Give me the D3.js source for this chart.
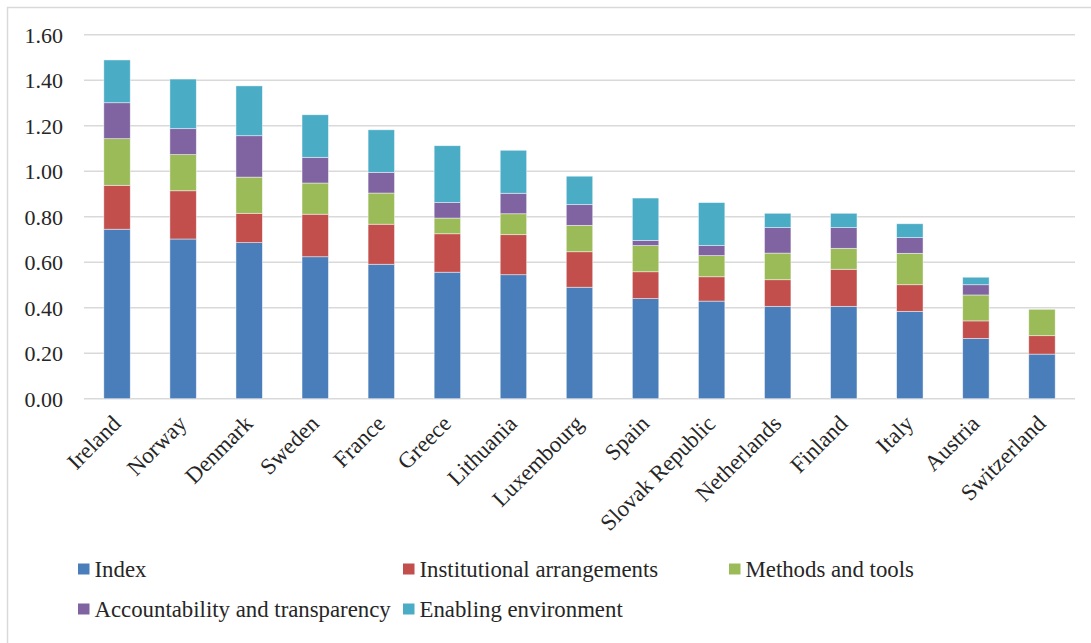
<!DOCTYPE html>
<html><head><meta charset="utf-8">
<script src="https://cdn.jsdelivr.net/npm/d3@7"></script>
<style>body{margin:0;background:#fff}svg{display:block}text{font-family:"Liberation Serif","Times New Roman",serif;fill:#262626}</style>
</head><body><svg id="c" width="1091" height="643"></svg>
<script>
const countries=["Ireland","Norway","Denmark","Sweden","France","Greece","Lithuania","Luxembourg","Spain","Slovak Republic","Netherlands","Finland","Italy","Austria","Switzerland"];
const seriesNames=["Index","Institutional arrangements","Methods and tools","Accountability and transparency","Enabling environment"];
const index=[0.745,0.702,0.686,0.624,0.591,0.556,0.545,0.490,0.440,0.429,0.406,0.406,0.384,0.265,0.196];
const institutional=[0.193,0.212,0.129,0.187,0.176,0.169,0.176,0.156,0.118,0.107,0.117,0.163,0.117,0.077,0.081];
const methods=[0.205,0.159,0.159,0.137,0.137,0.069,0.092,0.116,0.115,0.093,0.117,0.092,0.138,0.114,0.116];
const accountability=[0.158,0.114,0.182,0.113,0.091,0.068,0.090,0.091,0.023,0.044,0.112,0.091,0.069,0.045,0];
const enabling=[0.188,0.218,0.219,0.187,0.187,0.250,0.189,0.125,0.186,0.189,0.063,0.063,0.061,0.033,0];
const yTicks=[0,0.2,0.4,0.6,0.8,1.0,1.2,1.4,1.6];
const colors=["#4A7EBB","#C24F4C","#9BBB59","#8064A2","#4BACC6"];

const svg=d3.select("#c");
svg.append("rect").attr("x",7.5).attr("y",7.5).attr("width",1200).attr("height",800).attr("fill","none").attr("stroke","#d9d9d9").attr("stroke-width",1.5);

const x=d3.scaleBand().domain(countries).range([84,1075]).paddingInner(0.6).paddingOuter(0.3);
const y=d3.scaleLinear().domain([0,1.6]).range([398.7,34.7]);

const g=svg.append("g");
g.selectAll("line.grid").data(yTicks).join("line").attr("class","grid")
 .attr("x1",84).attr("x2",1075).attr("y1",d=>y(d)).attr("y2",d=>y(d))
 .attr("stroke","#d9d9d9").attr("stroke-width",1.5);

const yAxis=d3.axisLeft(y).tickValues(yTicks).tickFormat(d3.format(".2f")).tickSize(0).tickPadding(0);
const ya=svg.append("g").attr("transform","translate(63,0)").call(yAxis);
ya.select(".domain").remove();
ya.selectAll("text").attr("font-size",22).attr("font-family",'"Liberation Serif",serif').attr("fill","#262626").attr("dy","0.34em");

const rows=countries.map((c,i)=>({c,Index:index[i],"Institutional arrangements":institutional[i],"Methods and tools":methods[i],"Accountability and transparency":accountability[i],"Enabling environment":enabling[i]}));
const stacked=d3.stack().keys(seriesNames)(rows);
svg.append("g").selectAll("g").data(stacked).join("g").attr("fill",(d,i)=>colors[i])
 .selectAll("rect").data(d=>d.filter(p=>p[1]-p[0]>0)).join("rect")
 .attr("x",d=>x(d.data.c)).attr("width",x.bandwidth())
 .attr("y",d=>y(d[1])).attr("height",d=>y(d[0])-y(d[1]))
 .attr("stroke","#ffffff").attr("stroke-opacity",0.6).attr("stroke-width",0.75);

const xa=svg.append("g");
xa.selectAll("text").data(countries).join("text")
 .attr("transform",d=>`translate(${x(d)+x.bandwidth()/2+5},425) rotate(-45)`)
 .attr("text-anchor","end").attr("font-size",22.8).text(d=>d);

const legPos=[[78,569],[403,569],[729,569],[78,609],[403,609]];
const lg=svg.append("g");
seriesNames.forEach((s,i)=>{
  const [lx,ly]=legPos[i];
  lg.append("rect").attr("x",lx).attr("y",ly-5.5).attr("width",11.5).attr("height",11).attr("fill",colors[i]);
  lg.append("text").attr("x",lx+16.5).attr("y",ly+8).attr("font-size",22.8).text(s);
});
</script></body></html>
